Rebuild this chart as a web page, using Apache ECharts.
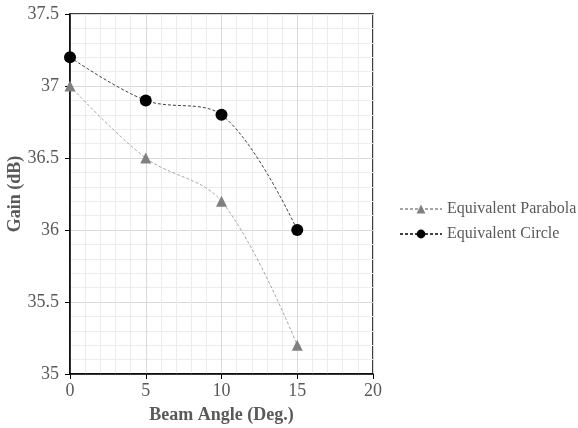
<!DOCTYPE html>
<html><head><meta charset="utf-8">
<script src="https://cdn.jsdelivr.net/npm/echarts@6/dist/echarts.min.js"></script>
<style>html,body{margin:0;padding:0;background:#fff}#c{width:578px;height:428px}</style>
</head><body><div id="c"></div>
<script>
const angles = [0, 5, 10, 15];
const parabolaGain = [37.0, 36.5, 36.2, 35.2];
const circleGain = [37.2, 36.9, 36.8, 36.0];
const seriesNames = ['Equivalent Parabola', 'Equivalent Circle'];
const xTitle = 'Beam Angle (Deg.)';
const yTitle = 'Gain (dB)';

const font = 'Liberation Serif, Times New Roman, serif';
const chart = echarts.init(document.getElementById('c'));
const mk = (xs, ys) => xs.map((x, i) => [x, ys[i]]);
chart.setOption({
  animation: false,
  textStyle: { fontFamily: font },
  grid: { left: 70, top: 14, width: 303, height: 360, containLabel: false, outerBoundsMode: 'none', show: true, borderColor: '#000', borderWidth: 1.5, backgroundColor: 'transparent' },
  xAxis: {
    type: 'value', min: 0, max: 20, interval: 5,
    name: xTitle, nameLocation: 'middle', nameGap: 32, nameMoveOverlap: false,
    nameTextStyle: { fontFamily: font, fontSize: 18, fontWeight: 'bold', color: '#595959' },
    axisLine: { show: true, onZero: false, lineStyle: { color: '#000', width: 1.5 } },
    axisTick: { show: true, inside: false, length: 5, lineStyle: { color: '#000' } },
    axisLabel: { fontFamily: font, fontSize: 18, color: '#595959', margin: 8 },
    splitLine: { show: true, lineStyle: { color: '#d9d9d9', width: 1 } },
    minorTick: { show: false, splitNumber: 5 },
    minorSplitLine: { show: true, lineStyle: { color: '#ececec', width: 1 } }
  },
  yAxis: {
    type: 'value', min: 35, max: 37.5, interval: 0.5,
    name: yTitle, nameLocation: 'middle', nameGap: 46, nameRotate: 90, nameMoveOverlap: false,
    nameTextStyle: { fontFamily: font, fontSize: 18, fontWeight: 'bold', color: '#595959' },
    axisLine: { show: true, onZero: false, lineStyle: { color: '#000', width: 1.5 } },
    axisTick: { show: true, inside: false, length: 5, lineStyle: { color: '#000' } },
    axisLabel: { fontFamily: font, fontSize: 18, color: '#595959', margin: 11 },
    splitLine: { show: true, lineStyle: { color: '#d9d9d9', width: 1 } },
    minorTick: { show: false, splitNumber: 5 },
    minorSplitLine: { show: true, lineStyle: { color: '#ececec', width: 1 } }
  },
  legend: {
    orient: 'vertical', left: 394, top: 196, itemGap: 9, itemWidth: 42, itemHeight: 11,
    textStyle: { fontFamily: font, fontSize: 16, color: '#595959' },
    data: seriesNames
  },
  series: [
    {
      name: seriesNames[0], type: 'line', smooth: 0.35, data: mk(angles, parabolaGain),
      symbol: 'triangle', symbolSize: 11,
      itemStyle: { color: '#808080' },
      lineStyle: { color: '#a6a6a6', width: 1, type: [3, 2] }
    },
    {
      name: seriesNames[1], type: 'line', smooth: 0.35, data: mk(angles, circleGain),
      symbol: 'circle', symbolSize: 12,
      itemStyle: { color: '#000' },
      lineStyle: { color: '#404040', width: 1, type: [3, 2] }
    }
  ]
});
</script></body></html>
